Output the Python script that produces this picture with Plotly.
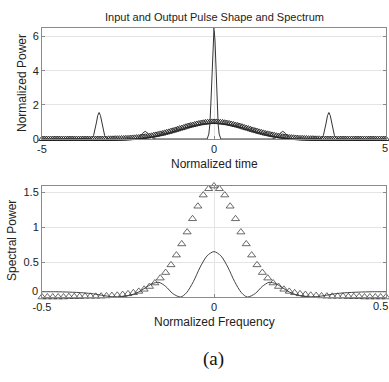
import numpy as np
import plotly.graph_objects as go

# ---------------- data ----------------
# Top panel: input pulse (triangles), sampled on -5..5 step 1/16
t_markers = np.linspace(-5, 5, 161)
p_input = [
    0, 0, 0, 0, 0, 0, 0, 0, 0, 0, 0, 0, 0, 0, 0, 0, 0, 0, 0, 0, 0, 0, 0, 0, 0, 0, 0, 0, 0, 0, 0,
    0.01, 0.01, 0.01, 0.02, 0.02, 0.02, 0.03, 0.03, 0.04, 0.04,
    0.05, 0.06, 0.07, 0.08, 0.09, 0.11, 0.12, 0.14, 0.15, 0.17,
    0.19, 0.22, 0.24, 0.27, 0.30, 0.32, 0.36, 0.39, 0.42, 0.46,
    0.49, 0.53, 0.57, 0.61, 0.64, 0.68, 0.72, 0.76, 0.79, 0.82,
    0.85, 0.88, 0.91, 0.93, 0.95, 0.97, 0.98, 0.99, 1.00,
    1.00,
    1.00, 0.99, 0.98, 0.97, 0.95, 0.93, 0.91, 0.88, 0.85,
    0.82, 0.79, 0.76, 0.72, 0.68, 0.64, 0.61, 0.57, 0.53, 0.49,
    0.46, 0.42, 0.39, 0.36, 0.32, 0.30, 0.27, 0.24, 0.22, 0.19,
    0.17, 0.15, 0.14, 0.12, 0.11, 0.09, 0.08, 0.07, 0.06, 0.05,
    0.04, 0.04, 0.03, 0.03, 0.02, 0.02, 0.02, 0.01, 0.01, 0.01,
    0, 0, 0, 0, 0, 0, 0, 0, 0, 0, 0, 0, 0, 0, 0, 0, 0, 0, 0, 0, 0, 0, 0, 0, 0, 0, 0, 0, 0, 0, 0,
]

# Top panel: output pulse (thin line)
t_line = [
    -5.0, -3.62, -3.56, -3.50, -3.46, -3.42, -3.38, -3.34, -3.30, -3.26, -3.22, -3.18, -3.12, -3.06,
    -2.32, -2.24, -2.16, -2.08, -2.00, -1.92, -1.84, -1.76, -1.68,
    -0.20, -0.15, -0.12, -0.09, -0.06, -0.03, 0.0, 0.03, 0.06, 0.09, 0.12, 0.15, 0.20,
    1.68, 1.76, 1.84, 1.92, 2.00, 2.08, 2.16, 2.24, 2.32,
    3.06, 3.12, 3.18, 3.22, 3.26, 3.30, 3.34, 3.38, 3.42, 3.46, 3.50, 3.56, 3.62, 5.0,
]
p_output = [
    0.0, 0.0, 0.035, 0.21, 0.50, 0.94, 1.37, 1.55, 1.37, 0.94, 0.50, 0.21, 0.035, 0.0,
    0.0, 0.025, 0.125, 0.33, 0.45, 0.33, 0.125, 0.025, 0.0,
    0.0, 0.29, 0.88, 2.11, 3.94, 5.74, 6.5, 5.74, 3.94, 2.11, 0.88, 0.29, 0.0,
    0.0, 0.025, 0.125, 0.33, 0.45, 0.33, 0.125, 0.025, 0.0,
    0.0, 0.035, 0.21, 0.50, 0.94, 1.37, 1.55, 1.37, 0.94, 0.50, 0.21, 0.035, 0.0, 0.0,
]

# Bottom panel: spectrum (triangles), 65 bins from -0.5 to 0.5
f_markers = np.linspace(-0.5, 0.5, 65)
s_input = [
    0.0, 0.0, 0.0, 0.0, 0.0, 0.005, 0.005, 0.005, 0.01, 0.01, 0.01,
    0.012, 0.015, 0.02, 0.025, 0.035, 0.045, 0.06, 0.08, 0.11, 0.15,
    0.20, 0.27, 0.35, 0.46, 0.60, 0.76, 0.93, 1.12, 1.30, 1.46, 1.55,
    1.59,
    1.55, 1.46, 1.30, 1.12, 0.93, 0.76, 0.60, 0.46, 0.35, 0.27, 0.20,
    0.15, 0.11, 0.08, 0.06, 0.045, 0.035, 0.025, 0.02, 0.015, 0.012,
    0.01, 0.01, 0.01, 0.005, 0.005, 0.005, 0.0, 0.0, 0.0, 0.0, 0.0,
]

# Bottom panel: output spectrum (thin line)
f_line = [
    -0.50, -0.46, -0.42, -0.38, -0.35, -0.32, -0.30, -0.28, -0.26, -0.24, -0.22, -0.20, -0.18,
    -0.16, -0.14, -0.12, -0.097, -0.08, -0.06, -0.04, -0.02, 0.0, 0.02, 0.04, 0.06, 0.08,
    0.097, 0.12, 0.14, 0.16, 0.18, 0.20, 0.22, 0.24, 0.26, 0.28, 0.30, 0.32, 0.35, 0.38,
    0.42, 0.46, 0.50,
]
s_output = [
    0.075, 0.075, 0.07, 0.06, 0.045, 0.02, 0.005, 0.0, 0.01, 0.03, 0.07, 0.13, 0.19,
    0.21, 0.15, 0.05, 0.0, 0.06, 0.22, 0.43, 0.59, 0.65, 0.59, 0.43, 0.22, 0.06,
    0.0, 0.05, 0.15, 0.21, 0.19, 0.13, 0.07, 0.03, 0.01, 0.0, 0.005, 0.02, 0.045, 0.06,
    0.07, 0.075, 0.075,
]

title_text = "Input and Output Pulse Shape and Spectrum"
top_xticks = [-5, 0, 5]
top_xtext = ["-5", "0", ""]
top_yticks = [0, 2, 4, 6]
bot_xticks = [-0.5, 0, 0.5]
bot_xtext = ["-0.5", "0", ""]
bot_yticks = [0, 0.5, 1, 1.5]
bot_ytext = ["", "0.5", "1", "1.5"]

# ---------------- figure ----------------
W, H = 389, 382
L, R, T, B = 42, 3, 28, 85
ph = H - T - B
top_dom = [(297 - 139) / ph, 1.0]
bot_dom = [0.0, (297 - 186) / ph]

ink = "#222222"
frame = "#8a8a8a"
grid = "#e4e4e4"
font = "Liberation Sans, Arial, Helvetica, sans-serif"

fig = go.Figure()
fig.add_trace(go.Scatter(
    x=t_markers, y=p_input, mode="markers", xaxis="x", yaxis="y",
    marker=dict(symbol="triangle-up-open", size=6, color="#222222", line=dict(width=0.9)),
    showlegend=False, cliponaxis=False))
fig.add_trace(go.Scatter(
    x=t_line, y=p_output, mode="lines", xaxis="x", yaxis="y",
    line=dict(color="#333333", width=1), showlegend=False))
fig.add_trace(go.Scatter(
    x=f_markers, y=s_input, mode="markers", xaxis="x2", yaxis="y2",
    marker=dict(symbol="triangle-up-open", size=7, color="#444444", line=dict(width=0.8)),
    showlegend=False, cliponaxis=False))
fig.add_trace(go.Scatter(
    x=f_line, y=s_output, mode="lines", xaxis="x2", yaxis="y2",
    line=dict(color="#444444", width=1, shape="spline", smoothing=0.8), showlegend=False))

axis_common = dict(
    showline=True, linecolor=frame, linewidth=1, mirror="ticks",
    ticks="inside", ticklen=3, tickcolor=frame,
    showgrid=True, gridcolor=grid, gridwidth=1, zeroline=False,
    tickfont=dict(family=font, size=11, color=ink),
)

fig.update_layout(
    width=W, height=H,
    margin=dict(l=L, r=R, t=T, b=B),
    paper_bgcolor="white", plot_bgcolor="white",
    font=dict(family=font, color=ink),
    xaxis=dict(domain=[0, 1], anchor="y", range=[-5, 5], tickvals=top_xticks,
               ticktext=top_xtext, **axis_common),
    yaxis=dict(domain=top_dom, anchor="x", range=[0, 6.5], tickvals=top_yticks, **axis_common),
    xaxis2=dict(domain=[0, 1], anchor="y2", range=[-0.5, 0.5], tickvals=bot_xticks,
                ticktext=bot_xtext, **axis_common),
    yaxis2=dict(domain=bot_dom, anchor="x2", range=[0, 1.59], tickvals=bot_yticks,
                ticktext=bot_ytext, **axis_common),
)

def py(pix):
    return (297 - pix) / ph

def px(pix):
    return (pix - L) / (W - L - R)

annots = [
    dict(text=title_text, x=0.5, y=py(17), size=11, angle=0),
    dict(text="Normalized time", x=0.5, y=py(164), size=12, angle=0),
    dict(text="Normalized Frequency", x=0.5, y=py(322), size=12, angle=0),
    dict(text="Normalized Power", x=px(22), y=py(83), size=12, angle=-90),
    dict(text="Spectral Power", x=px(12), y=py(241), size=12, angle=-90),
]
for a in annots:
    fig.add_annotation(text=a["text"], x=a["x"], y=a["y"], xref="paper", yref="paper",
                       showarrow=False, textangle=a["angle"], xanchor="center", yanchor="middle",
                       font=dict(family=font, size=a["size"], color=ink))
# tick labels placed by hand where the original has them at the edges
edge_labels = [
    ("0", px(39), py(291), "right"),
    ("5", px(389), py(148), "right"),
    ("0.5", px(389), py(306), "right"),
]
for txt, xx, yy, anc in edge_labels:
    fig.add_annotation(text=txt, x=xx, y=yy, xref="paper", yref="paper",
                       showarrow=False, xanchor=anc, yanchor="middle", borderpad=0,
                       font=dict(family=font, size=11, color=ink))
fig.add_annotation(text="(a)", x=px(213), y=py(359), xref="paper", yref="paper",
                   showarrow=False, xanchor="center", yanchor="middle",
                   font=dict(family="Liberation Serif, Times New Roman, serif", size=19, color="#111111"))

fig.write_html("out.html", config={"displayModeBar": False},
               post_script="document.body.style.margin='0';document.body.style.padding='0';")
